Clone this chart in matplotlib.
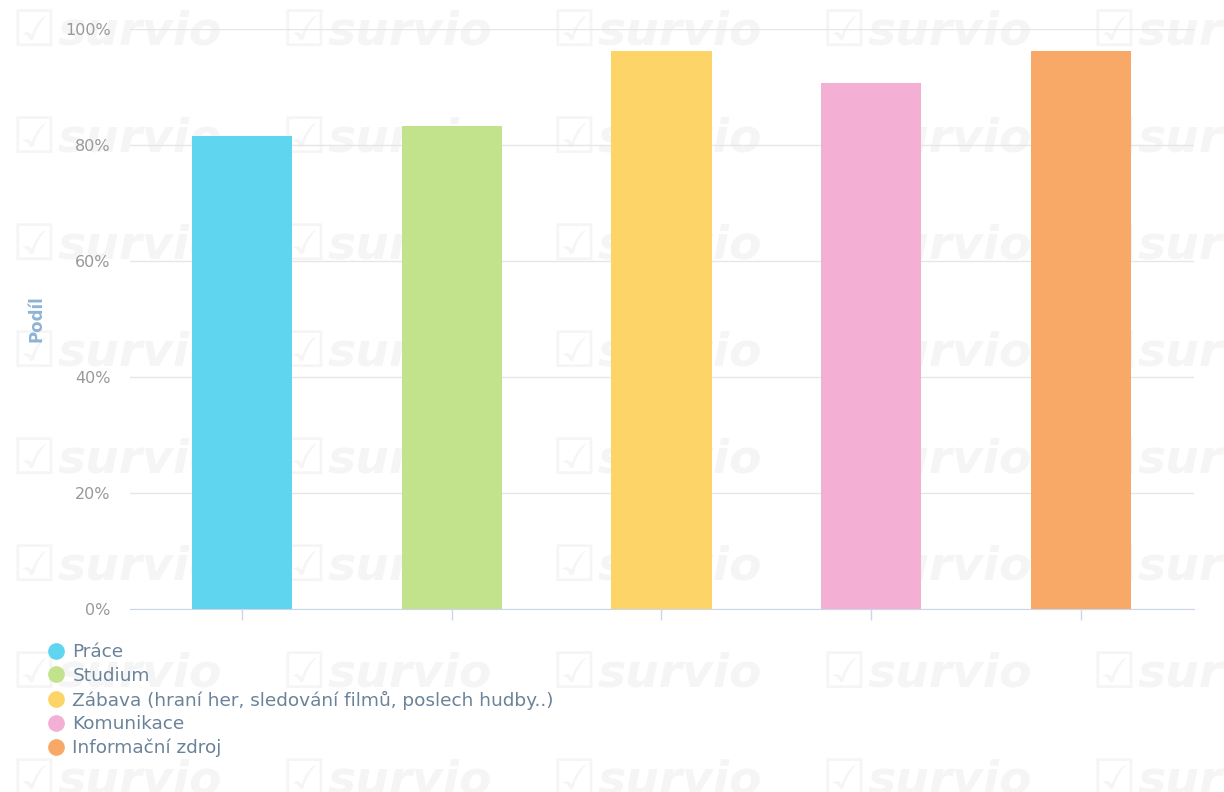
import matplotlib.pyplot as plt
from matplotlib.lines import Line2D
from matplotlib.ticker import FuncFormatter

categories = ['Práce', 'Studium', 'Zábava (hraní her, sledování filmů, poslech hudby..)',
              'Komunikace', 'Informační zdroj']
values = [81.6, 83.3, 96.2, 90.7, 96.2]
colors = ['#5fd5f0', '#c2e38b', '#fcd468', '#f4afd4', '#f8a967']
yticks = [0, 20, 40, 60, 80, 100]

fig = plt.figure(figsize=(12.24, 7.92), dpi=100)
fig.patch.set_facecolor('white')

# faint tiled watermark on a background axes
bg = fig.add_axes([0, 0, 1, 1], zorder=-1)
bg.set_xlim(0, 1224)
bg.set_ylim(792, 0)
bg.axis('off')
for row in range(8):
    for col in range(5):
        x = 12 + col * 270
        y = 32 + row * 107
        bg.text(x, y, '☑', fontsize=36, color='#f5f5f5', va='center', ha='left')
        bg.text(x + 46, y, 'survio', fontsize=34, color='#f5f5f5',
                style='italic', weight='bold', va='center', ha='left')

ax = fig.add_axes([130 / 1224, 1 - 609 / 792, 1064 / 1224, 580 / 792], zorder=1)
ax.patch.set_alpha(0)

x = range(len(categories))
ax.bar(x, values, width=0.477, color=colors, zorder=3)

ax.set_xlim(-0.533, len(categories) - 0.462)
ax.set_ylim(0, 100)
ax.set_yticks(yticks)
ax.yaxis.set_major_formatter(FuncFormatter(lambda v, p: f'{v:.0f}%'))
ax.grid(axis='y', color='#e6e6e6', linewidth=1, zorder=0)
ax.set_xticks(list(x))
ax.set_xticklabels([])
ax.tick_params(axis='x', length=8, color='#ccd6eb', width=1)
ax.tick_params(axis='y', length=0, labelsize=11.5, labelcolor='#999999', pad=14)

for s in ['top', 'right', 'left']:
    ax.spines[s].set_visible(False)
ax.spines['bottom'].set_color('#ccd6eb')

ax.set_ylabel('Podíl', fontsize=12, weight='bold', color='#8fb3d4', labelpad=14)

handles = [Line2D([], [], marker='o', linestyle='', markersize=11,
                  markerfacecolor=c, markeredgecolor=c) for c in colors]
fig.legend(handles, categories, loc='upper left',
           bbox_to_anchor=(39 / 1224, 1 - 636 / 792), frameon=False,
           fontsize=13.3, labelcolor='#6a8399', handletextpad=0.4,
           labelspacing=0.3, handlelength=1.0, borderaxespad=0)

fig.savefig('out.png', dpi=100)
